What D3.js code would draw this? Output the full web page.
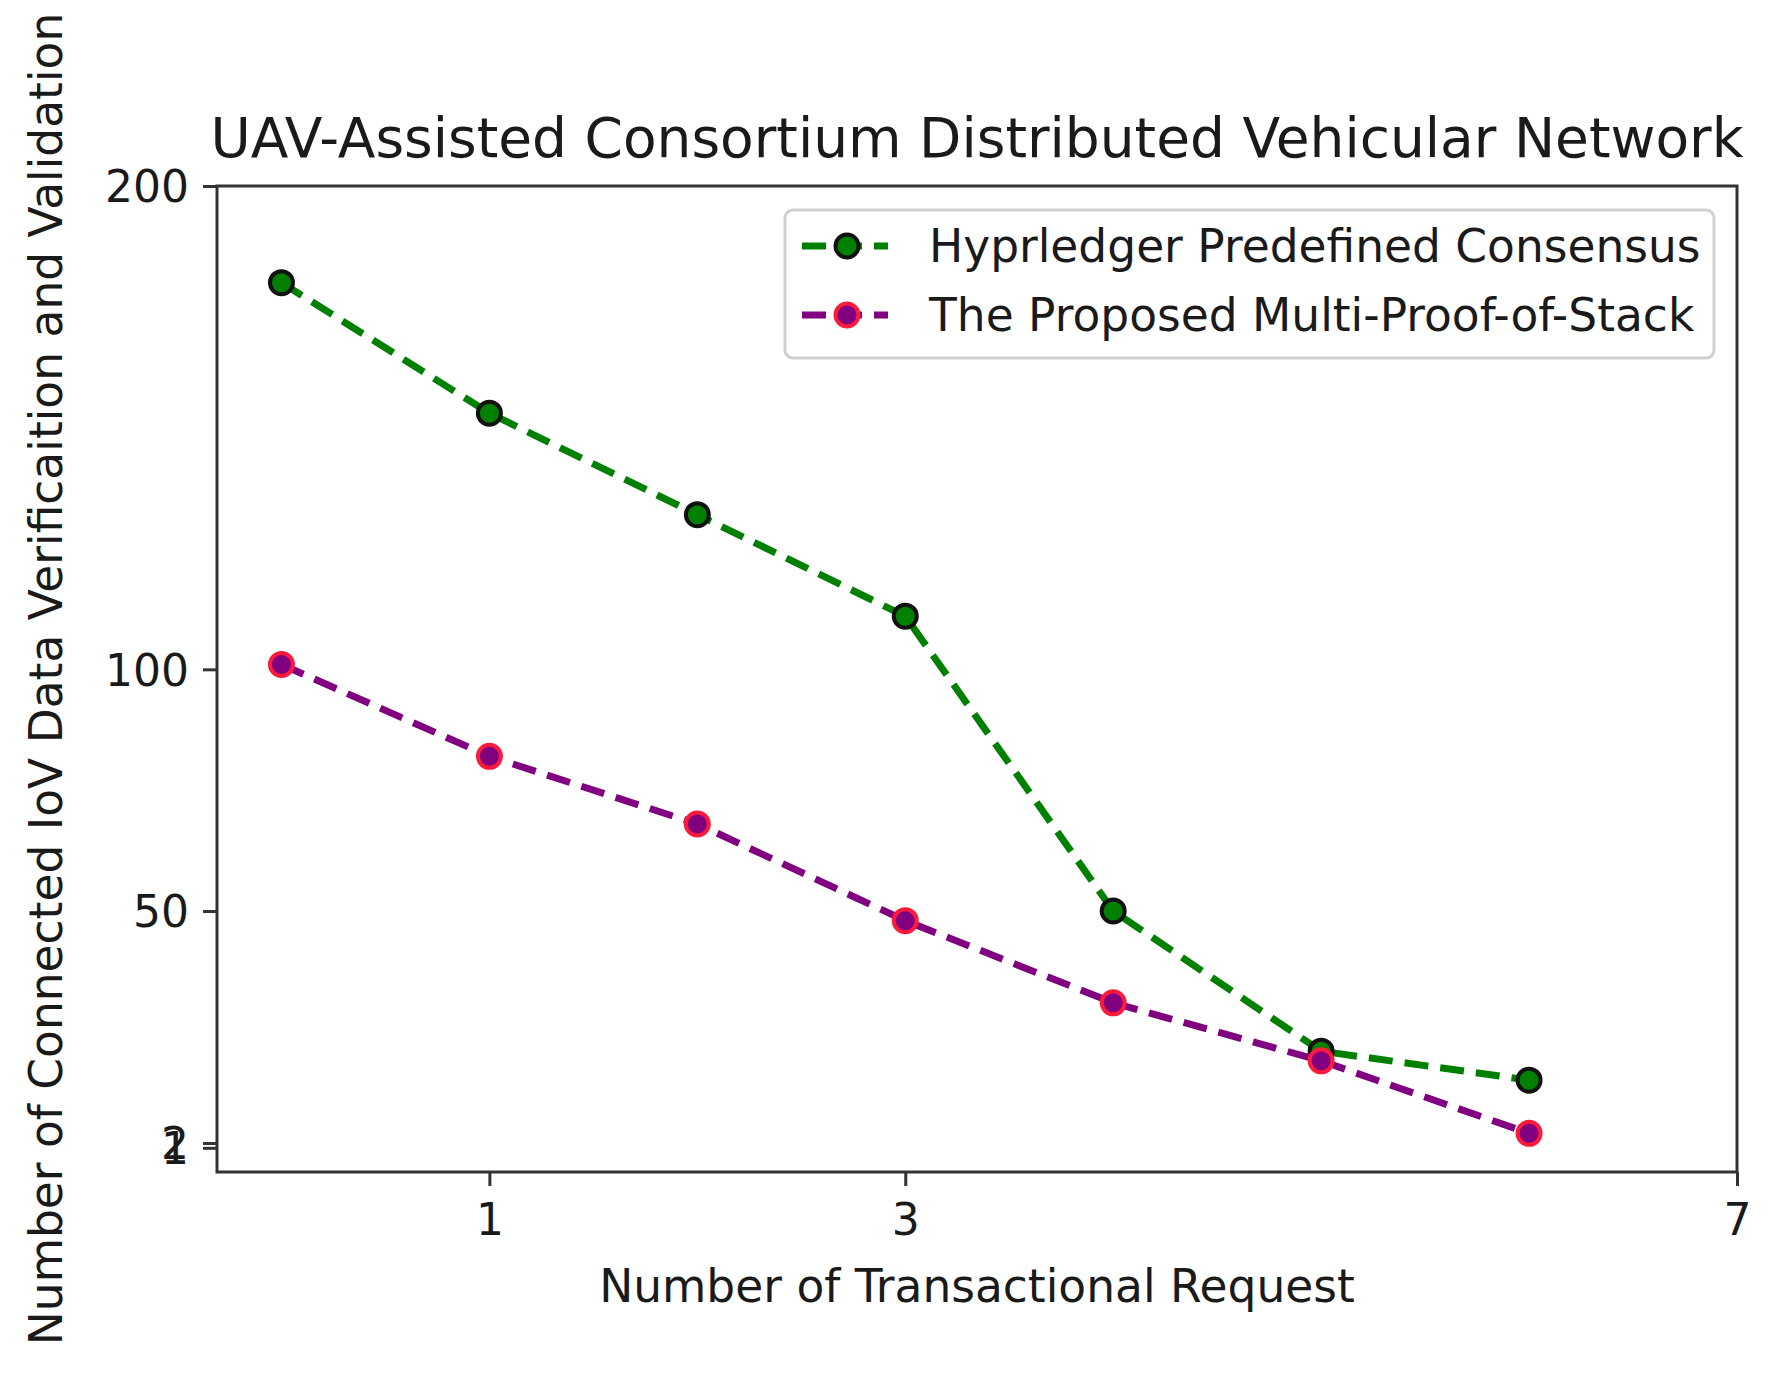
<!DOCTYPE html>
<html>
<head>
<meta charset="utf-8">
<script src="https://cdn.jsdelivr.net/npm/d3@7/dist/d3.min.js"></script>
<style>
  html, body { margin: 0; padding: 0; background: #fff; }
  svg { display: block; font-family: "DejaVu Sans", sans-serif; }
</style>
</head>
<body>
<div id="chart"></div>
<script>
// Chart data
const requests = [0, 1, 2, 3, 4, 5, 6];
const hyperledger = [180, 153, 132, 111, 50, 21, 15];
const multiProof = [101, 82, 68, 48, 31, 19, 4];
const xTicks = [1, 3, 7];
const yTicks = [1, 2, 50, 100, 200];

const seriesNames = ["Hyprledger Predefined Consensus", "The Proposed Multi-Proof-of-Stack"];
const titleText = "UAV-Assisted Consortium Distributed Vehicular Network";
const xLabel = "Number of Transactional Request";
const yLabel = "Number of Connected IoV Data Verificaition and Validation";

// Layout
let width = 1783, height = 1380;
let plot = { left: 217, right: 1737, top: 186, bottom: 1172 };

let style = {
    text: "#1a1a1a",
    spine: "#333",
    greenLine: "#008000",
    greenFill: "#008000",
    greenEdge: "#111",
    purpleLine: "#800080",
    purpleFill: "#800080",
    purpleEdge: "#ff1a3c",
    tickSize: 44,
    fontSize: 45.5,
    titleSize: 55,
    lineWidth: 7,
    dash: "24,12",
    markerR: 11.5
}

let svg = d3.select("#chart").append("svg")
    .attr("width", width).attr("height", height);
svg.append("rect").attr("width", width).attr("height", height).attr("fill", "#fff");

let x = d3.scaleLinear().domain([-0.31, 7]).range([plot.left, plot.right]);
let y = d3.scaleLinear().domain([-4, 200]).range([plot.bottom, plot.top]);

// Axes
let xAxis = svg.append("g")
    .attr("transform", `translate(0,${plot.bottom})`)
    .call(d3.axisBottom(x).tickValues(xTicks).tickFormat(d3.format("d")).tickSize(14).tickPadding(14));
let yAxis = svg.append("g")
    .attr("transform", `translate(${plot.left},0)`)
    .call(d3.axisLeft(y).tickValues(yTicks).tickFormat(d3.format("d")).tickSize(14).tickPadding(14));

[xAxis, yAxis].forEach(g => {
    g.select(".domain").remove();
    g.selectAll(".tick line").attr("stroke", style.spine).attr("stroke-width", 3);
    g.selectAll(".tick text")
        .attr("fill", style.text)
        .style("font-size", style.tickSize + "px")
        .style("font-family", "DejaVu Sans");
});
yAxis.selectAll(".tick text").attr("dy", "0.36em");
xAxis.selectAll(".tick text").attr("dy", "0.8em");

// Frame
svg.append("rect")
    .attr("x", plot.left).attr("y", plot.top)
    .attr("width", plot.right - plot.left).attr("height", plot.bottom - plot.top)
    .attr("fill", "none").attr("stroke", style.spine).attr("stroke-width", 3);

// Series
let series = [
    { name: seriesNames[0], values: hyperledger, line: style.greenLine, fill: style.greenFill, edge: style.greenEdge },
    { name: seriesNames[1], values: multiProof, line: style.purpleLine, fill: style.purpleFill, edge: style.purpleEdge }
];

let line = d3.line().x((d, i) => x(requests[i])).y(d => y(d));

series.forEach(s => {
    svg.append("path")
        .datum(s.values)
        .attr("d", line)
        .attr("fill", "none")
        .attr("stroke", s.line)
        .attr("stroke-width", style.lineWidth)
        .attr("stroke-dasharray", style.dash);
    svg.append("g").selectAll("circle").data(s.values).enter().append("circle")
        .attr("cx", (d, i) => x(requests[i]))
        .attr("cy", d => y(d))
        .attr("r", style.markerR)
        .attr("fill", s.fill)
        .attr("stroke", s.edge)
        .attr("stroke-width", 4);
});

// Title and axis labels
svg.append("text")
    .attr("x", (plot.left + plot.right) / 2).attr("y", 157)
    .attr("text-anchor", "middle")
    .attr("fill", style.text)
    .style("font-size", style.titleSize + "px")
    .text(titleText);

svg.append("text")
    .attr("x", (plot.left + plot.right) / 2).attr("y", 1302)
    .attr("text-anchor", "middle")
    .attr("fill", style.text)
    .style("font-size", style.fontSize + "px")
    .text(xLabel);

svg.append("text")
    .attr("transform", `translate(62,${(plot.top + plot.bottom) / 2}) rotate(-90)`)
    .attr("text-anchor", "middle")
    .attr("fill", style.text)
    .style("font-size", style.fontSize + "px")
    .text(yLabel);

// Legend
let legend = svg.append("g").attr("transform", "translate(785,210)");
legend.append("rect")
    .attr("width", 929).attr("height", 148)
    .attr("rx", 8)
    .attr("fill", "#fff").attr("fill-opacity", 0.8)
    .attr("stroke", "#d0d0d0").attr("stroke-width", 3);

series.forEach((s, i) => {
    let row = legend.append("g").attr("transform", `translate(0,${36 + i * 69})`);
    row.append("line")
        .attr("x1", 17).attr("x2", 103)
        .attr("stroke", s.line).attr("stroke-width", style.lineWidth)
        .attr("stroke-dasharray", style.dash);
    row.append("circle")
        .attr("cx", 62).attr("r", style.markerR)
        .attr("fill", s.fill).attr("stroke", s.edge).attr("stroke-width", 4);
    row.append("text")
        .attr("x", 144).attr("dy", "0.36em")
        .attr("fill", style.text)
        .style("font-size", style.fontSize + "px")
        .text(s.name);
});
</script>
</body>
</html>
